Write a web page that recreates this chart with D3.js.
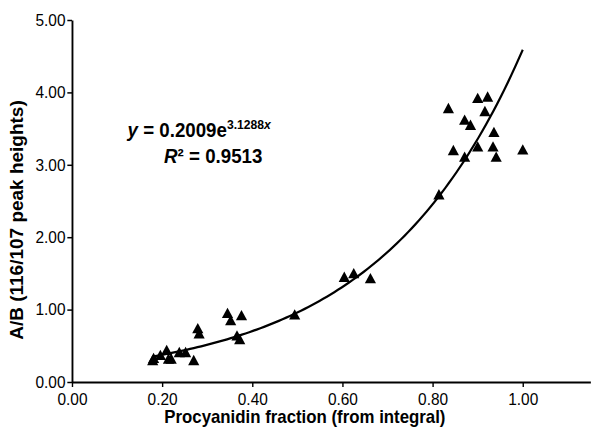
<!DOCTYPE html>
<html><head><meta charset="utf-8">
<script src="https://cdn.jsdelivr.net/npm/d3@7/dist/d3.min.js"></script>
<style>body{margin:0;background:#fff}svg{display:block}text{font-family:"Liberation Sans",Arial,sans-serif}</style>
</head><body><svg id="c" width="606" height="432"></svg>
<script>
const xVals = [0.179,0.181,0.196,0.210,0.214,0.220,0.238,0.252,0.270,0.279,0.282,0.345,0.352,0.366,0.372,0.376,0.494,0.604,0.625,0.662,0.814,0.835,0.846,0.871,0.871,0.884,0.900,0.900,0.916,0.922,0.934,0.936,0.941,1.000];
const yVals = [0.28,0.31,0.35,0.42,0.30,0.30,0.39,0.39,0.28,0.72,0.65,0.93,0.83,0.62,0.57,0.90,0.91,1.43,1.48,1.41,2.57,3.76,3.18,3.60,3.09,3.53,3.90,3.23,3.72,3.92,3.23,3.43,3.09,3.19];
const xTicks = [0,0.2,0.4,0.6,0.8,1.0];
const yTicks = [0,1,2,3,4,5];
const fitA = 0.2009, fitB = 3.1288;
const fitRange = [0.18, 1.0];

const root = d3.select("#c").append("g").attr("transform","scale(0.9352,1)");
const x = d3.scaleLinear().domain([0,1.15]).range([77,631.3]);
const y = d3.scaleLinear().domain([0,5]).range([382,20]);

const xAxis = root.append("g").attr("transform","translate(0,382)")
  .call(d3.axisBottom(x).tickValues(xTicks).tickFormat(d3.format(".2f")).tickSize(5).tickSizeOuter(0));
const yAxis = root.append("g").attr("transform","translate(77,0)")
  .call(d3.axisLeft(y).tickValues(yTicks).tickFormat(d3.format(".2f")).tickSize(5).tickSizeOuter(0));
[xAxis,yAxis].forEach(g=>{
  g.select(".domain").attr("stroke","#000").attr("stroke-width",2);
  g.selectAll(".tick line").attr("stroke","#000").attr("stroke-width",1.5);
  g.selectAll(".tick text").attr("fill","#000").style("font-size","16.5px").style("font-family","Liberation Sans, Arial, sans-serif");
});
xAxis.selectAll(".tick text").attr("dy","0.88em");
yAxis.selectAll(".tick text").attr("x",-7);

const curvePts = d3.range(0,101).map(i=>{const t=fitRange[0]+(fitRange[1]-fitRange[0])*i/100;return [t,fitA*Math.exp(fitB*t)];});
root.append("path").datum(curvePts).attr("fill","none").attr("stroke","#000").attr("stroke-width",2.3)
  .attr("d",d3.line().x(d=>x(d[0])).y(d=>y(d[1])));

root.append("g").selectAll("path").data(xVals.map((v,i)=>[v,yVals[i]])).join("path")
  .attr("transform",d=>`translate(${x(d[0])},${y(d[1])})`)
  .attr("d",d3.symbol(d3.symbolTriangle,62)).attr("fill","#000");

root.append("text").attr("x",326).attr("y",423).attr("text-anchor","middle")
  .style("font-size","18px").style("font-weight","bold").text("Procyanidin fraction (from integral)");
root.append("text").attr("transform",`translate(25,220) rotate(-90)`).attr("text-anchor","middle")
  .style("font-size","19px").style("font-weight","bold").text("A/B (116/107 peak heights)");

const eq = root.append("text").attr("x",213).attr("y",137).attr("text-anchor","middle").style("font-size","20px").style("font-weight","bold");
eq.append("tspan").style("font-style","italic").text("y");
eq.append("tspan").text(" = 0.2009e");
eq.append("tspan").attr("dy",-8).style("font-size","13px").text("3.1288");
eq.append("tspan").style("font-size","13px").style("font-style","italic").text("x");
const r2 = root.append("text").attr("x",228).attr("y",163).attr("text-anchor","middle").style("font-size","20px").style("font-weight","bold");
r2.append("tspan").style("font-style","italic").text("R");
r2.append("tspan").text("² = 0.9513");
</script></body></html>
